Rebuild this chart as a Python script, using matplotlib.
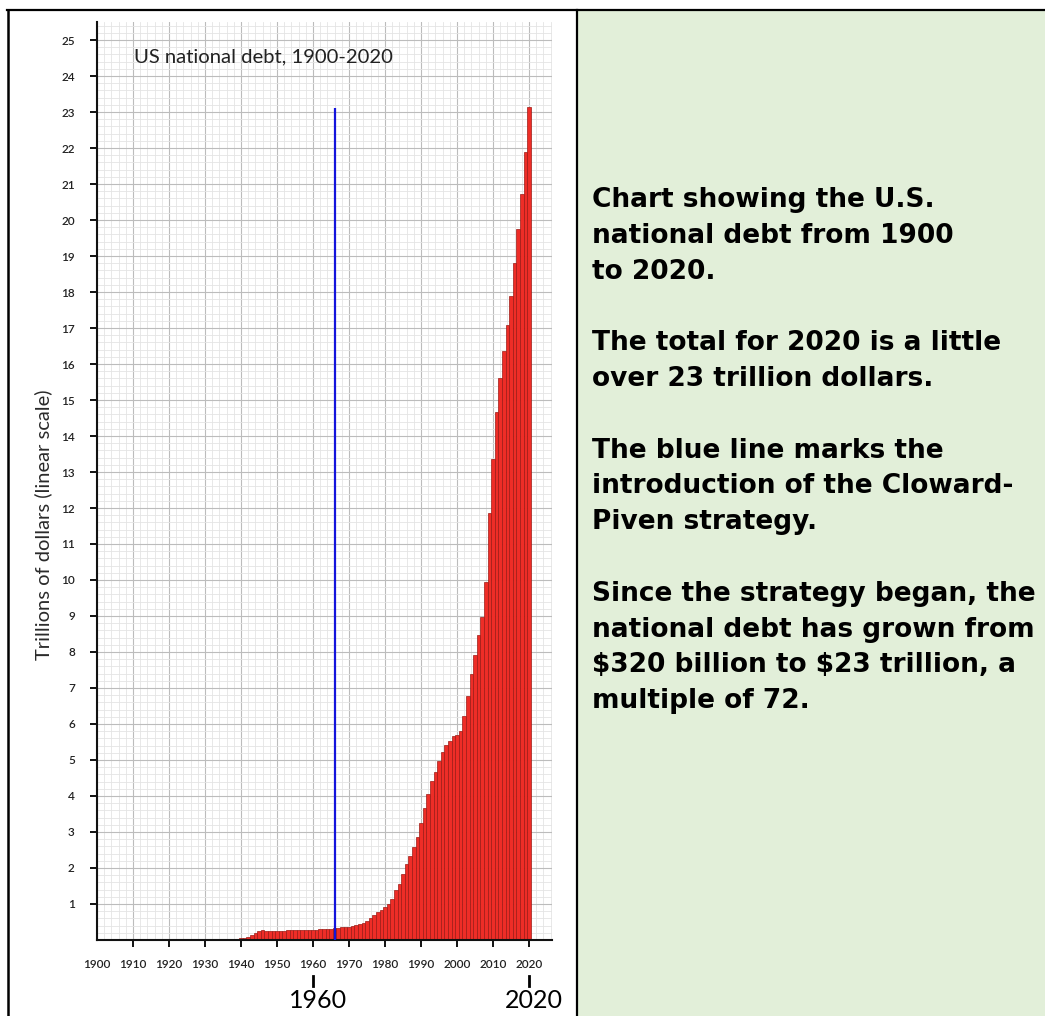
import numpy as np
import matplotlib
matplotlib.use("Agg")
import matplotlib.pyplot as plt
from matplotlib.ticker import MultipleLocator
from matplotlib.lines import Line2D
from matplotlib.patches import Rectangle

# DATA
years = list(range(1900, 2021))
debt = [0.0013, 0.0012, 0.0012, 0.0012, 0.0012, 0.0012, 0.0011, 0.0011, 0.0012, 0.0013,
        0.0011, 0.0011, 0.0012, 0.0012, 0.0012, 0.0012, 0.0012, 0.0030, 0.012, 0.025,
        0.024, 0.024, 0.023, 0.022, 0.021, 0.020, 0.019, 0.018, 0.018, 0.017,
        0.016, 0.017, 0.019, 0.023, 0.027, 0.029, 0.034, 0.036, 0.037, 0.040,
        0.043, 0.049, 0.072, 0.137, 0.201, 0.259, 0.269, 0.258, 0.252, 0.253,
        0.257, 0.255, 0.259, 0.266, 0.271, 0.274, 0.273, 0.271, 0.276, 0.285,
        0.286, 0.289, 0.298, 0.306, 0.312, 0.317, 0.320, 0.326, 0.348, 0.354,
        0.371, 0.398, 0.427, 0.458, 0.475, 0.533, 0.620, 0.699, 0.772, 0.827,
        0.908, 0.998, 1.142, 1.377, 1.56, 1.83, 2.11, 2.34, 2.57, 2.85,
        3.25, 3.68, 4.06, 4.42, 4.67, 4.98, 5.23, 5.41, 5.53, 5.66,
        5.69, 5.80, 6.22, 6.78, 7.38, 7.93, 8.48, 8.97, 9.95, 11.87,
        13.35, 14.68, 15.60, 16.35, 17.08, 17.90, 18.80, 19.74, 20.73, 21.90,
        23.15]
xtick_years = list(range(1900, 2030, 10))
ytick_vals = list(range(1, 26))
cp_year = 1966
cp_top = 23.1
marked_years = [1960, 2020]

title = "US national debt, 1900-2020"
ylabel = "Trillions of dollars (linear scale)"
note_lines = [
    "Chart showing the U.S.",
    "national debt from 1900",
    "to 2020.",
    "",
    "The total for 2020 is a little",
    "over 23 trillion dollars.",
    "",
    "The blue line marks the",
    "introduction of the Cloward-",
    "Piven strategy.",
    "",
    "Since the strategy began, the",
    "national debt has grown from",
    "$320 billion to $23 trillion, a",
    "multiple of 72.",
]

W, H = 1045, 1016
fig = plt.figure(figsize=(W / 100, H / 100), dpi=100)
fig.patch.set_facecolor("white")

# right green cell + table borders
fig.add_artist(Rectangle((577 / W, 0), 1 - 577 / W, 1 - 10 / H, transform=fig.transFigure,
                         facecolor="#e2efd9", edgecolor="none", zorder=0))
fig.add_artist(Line2D([7 / W, 1], [1 - 9.5 / H] * 2, color="black", lw=1.6))
fig.add_artist(Line2D([7.5 / W] * 2, [0, 1 - 9.5 / H], color="black", lw=1.8))
fig.add_artist(Line2D([577 / W] * 2, [0, 1 - 9.5 / H], color="black", lw=1.6))

# chart
ax = fig.add_axes([97 / W, 76 / H, 455 / W, 918 / H])
ax.set_xlim(1900, 2026.4)
ax.set_ylim(0, 25.5)
ax.set_axisbelow(True)

ax.bar(years, debt, width=1.0, color="#ee2d27", edgecolor="#9c1a15", linewidth=0.5, zorder=2)
ax.vlines(cp_year, 0, cp_top, color="#1414dc", lw=1.6, zorder=3)

ax.set_xticks(xtick_years)
ax.set_yticks(ytick_vals)
ax.xaxis.set_minor_locator(MultipleLocator(2))
ax.yaxis.set_minor_locator(MultipleLocator(0.2))
ax.grid(which="major", color="#bcbcbc", lw=0.8)
ax.grid(which="minor", color="#e4e4e4", lw=0.6)

for s in ["top", "right"]:
    ax.spines[s].set_visible(False)
for s in ["left", "bottom"]:
    ax.spines[s].set_linewidth(1.5)
    ax.spines[s].set_color("#111111")

tick_font = dict(family=["Lato", "DejaVu Sans"], size=8.5, weight="semibold")
ax.tick_params(which="major", direction="out", length=5, width=1.4, color="#111111",
               labelcolor="#222222")
ax.tick_params(which="minor", length=0)
ax.tick_params(axis="y", pad=11)
ax.tick_params(axis="x", pad=9)
ax.set_xticklabels([str(y) for y in xtick_years], **tick_font)
ax.set_yticklabels([str(v) for v in ytick_vals], **tick_font)
ax.xaxis.get_major_ticks()[0].tick1line.set_visible(False)

ax.text((134 - 97) / 455, (940 - 57) / 918, title, transform=ax.transAxes,
        ha="left", va="center", fontsize=14.6, family=["Lato", "DejaVu Sans"], color="#222222")

ax.set_ylabel(ylabel, fontsize=14.5, family=["Lato", "DejaVu Sans"], color="#2a2a2a")
ax.yaxis.label.set_va("center")
ax.yaxis.set_label_coords((43 - 97) / 455, (940 - 525) / 918)

# big year marks under the axis
xt = ax.get_xaxis_transform()
for yr in marked_years:
    ax.plot([yr, yr], [(940 - 976) / 918, (940 - 986) / 918], transform=xt,
            color="black", lw=2.0, clip_on=False)
    ax.text(yr + 1.4, (940 - 1001) / 918, str(yr), transform=xt, ha="center", va="center",
            fontsize=18, family=["Lato", "DejaVu Sans"], color="black")

# notes on the right
for i, line in enumerate(note_lines):
    if line:
        fig.text(592 / W, 1 - (207 + i * 35.8) / H, line, ha="left", va="baseline",
                 fontsize=19, fontweight="bold", family="DejaVu Sans", color="black",
                 parse_math=False)

fig.savefig("out.png", dpi=100)
